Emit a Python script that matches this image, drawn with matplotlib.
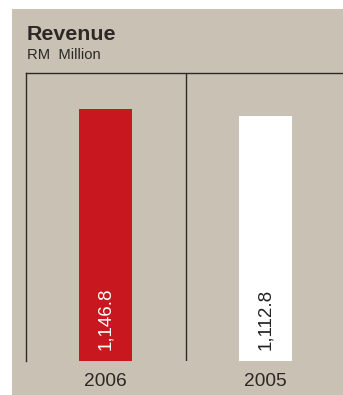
import matplotlib.pyplot as plt
from matplotlib.patches import Rectangle

years = ['2006', '2005']
revenue = [1146.8, 1112.8]
bar_colors = ['#c8171e', '#ffffff']
label_colors = ['#ffffff', '#222222']

BG = '#c9c2b4'
INK = '#2b2826'

plt.rcParams['font.family'] = ['Liberation Sans', 'DejaVu Sans']

fig = plt.figure(figsize=(3.43, 3.95), dpi=100)
fig.patch.set_facecolor('white')
# beige panel, inset from the top and left edges
fig.patches.append(Rectangle((12 / 343, 0), 1, 1 - 9 / 395, transform=fig.transFigure,
                             facecolor=BG, edgecolor='none', zorder=-1))

fig.text(27 / 343, 1 - 40 / 395, 'Revenue', fontsize=15.4, fontweight='bold',
         color=INK, va='baseline')
fig.text(27 / 343, 1 - 59 / 395, 'RM  Million', fontsize=10.6, color=INK, va='baseline')

ax = fig.add_axes([26 / 343, 1 - 360.7 / 395, 317 / 343, 287.7 / 395])
ax.set_facecolor('none')
ax.set_zorder(2)

x = range(len(years))
ax.bar(x, revenue, width=0.332, color=bar_colors, zorder=2)
for i, v in enumerate(revenue):
    ax.annotate(f'{v:,.1f}', (i, 0), xytext=(0, 7.5), textcoords='offset points',
                rotation=90, ha='center', va='bottom', fontsize=13.5,
                color=label_colors[i], zorder=3)

ax.set_xlim(-0.5, 317 / 159.5 - 0.5)
ax.set_ylim(0, 1311)
ax.axvline(0.5, color=INK, lw=1.0)

for side in ['right', 'bottom']:
    ax.spines[side].set_visible(False)
for side in ['left', 'top']:
    ax.spines[side].set_color(INK)
    ax.spines[side].set_linewidth(1.0)

ax.set_xticks(list(x))
ax.set_xticklabels(years, fontsize=13.8, color=INK)
ax.tick_params(axis='x', length=0, pad=8.5)
ax.set_yticks([])

fig.savefig('out.png', dpi=100, facecolor=fig.get_facecolor())
